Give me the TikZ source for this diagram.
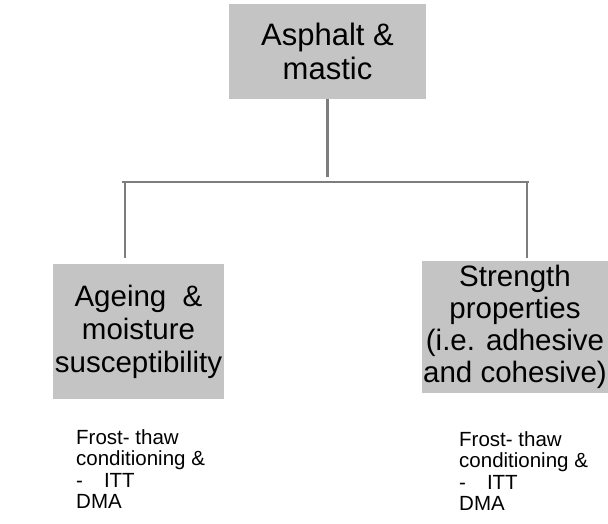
\documentclass[tikz,border=0pt]{standalone}
\usepackage{fontspec}
\setmainfont{Liberation Sans}
\begin{document}
\begin{tikzpicture}[x=1pt,y=-1pt,
  box/.style={fill=boxgray,draw=none,inner sep=0pt,align=center},
  conn/.style={draw=linegray,line width=2.2pt},
  note/.style={anchor=north west,align=left,inner sep=0pt,font=\fontsize{20.5}{21.5}\selectfont}]
\definecolor{boxgray}{RGB}{196,196,196}
\definecolor{linegray}{RGB}{125,125,125}
\useasboundingbox (0,0) rectangle (608,523);
\node[box,minimum width=197pt,minimum height=95pt,font=\fontsize{31}{34}\selectfont] (top) at (327.5,51.5) {Asphalt \&\\mastic};
\node[box,minimum width=171pt,minimum height=135pt,font=\fontsize{29.5}{33}\selectfont] (left) at (138.5,331.5) {Ageing \ \&\\moisture\\susceptibility};
\node[box,minimum width=186pt,minimum height=132pt,font=\fontsize{29.5}{32}\selectfont] (right) at (515,327) {Strength\\properties\\(i.e. adhesive\\and cohesive)};
\coordinate (hub) at (327.5,177);
\coordinate (bl) at (122,182);
\coordinate (br) at (529,182);
\coordinate (lt) at (125,182);
\coordinate (lb) at (125,258);
\coordinate (rt) at (527,182);
\coordinate (rb) at (527,258);
\draw[conn] (top.south) -- (hub);
\draw[conn] (bl) -- (br);
\draw[conn] (lt) -- (lb);
\draw[conn] (rt) -- (rb);
\node[note] (leftnote) at (76,429) {Frost- thaw\\conditioning \&\\-\hspace{21pt}ITT\\DMA};
\node[note] (rightnote) at (459,431) {Frost- thaw\\conditioning \&\\-\hspace{21pt}ITT\\DMA};
\end{tikzpicture}
\end{document}
